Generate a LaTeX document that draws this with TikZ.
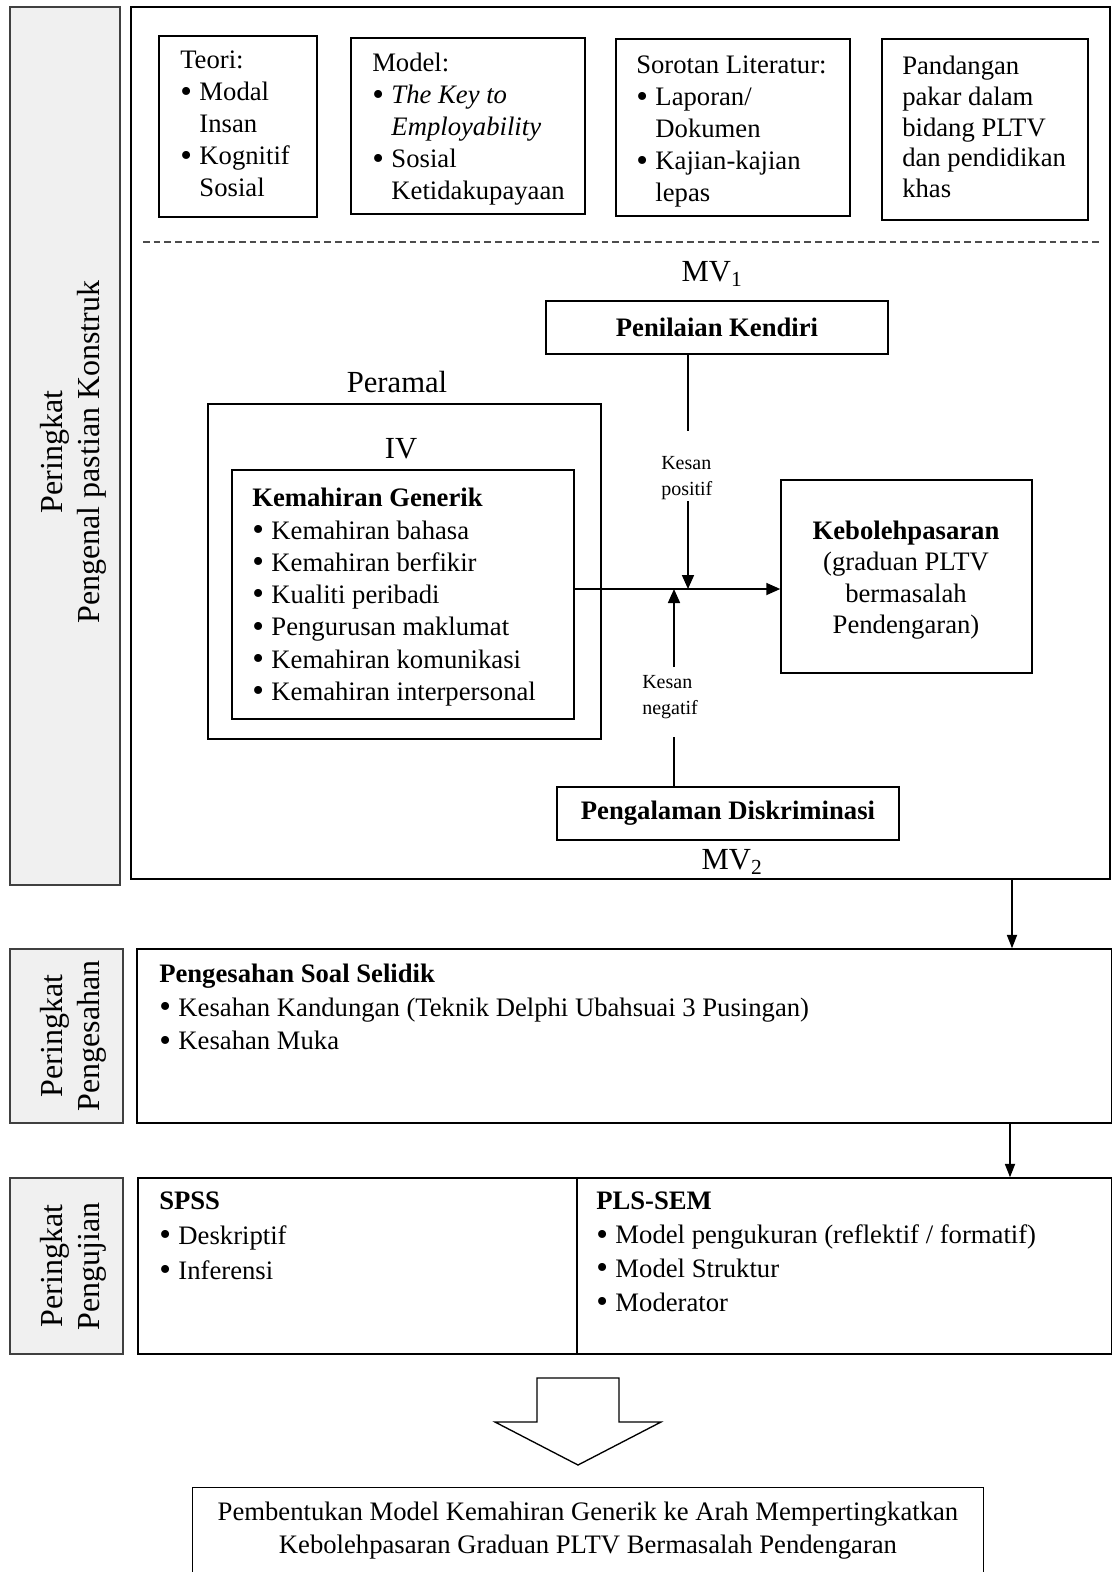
\documentclass[tikz,border=0pt]{standalone}
\usepackage{fontspec}
\setmainfont{Liberation Serif}
\usetikzlibrary{arrows.meta,fit}
\newcommand{\bdot}{\smash{\raisebox{-0.05em}{\scalebox{1.25}{\textbullet}}}}
\newcommand{\bu}{\makebox[0.72em][l]{\bdot}}
\newcommand{\ind}{\hspace*{0.72em}}
\tikzset{
  frame/.style={draw=black, line width=1.1pt, inner sep=0pt},
  panel/.style={draw=black!75, fill=black!6, line width=1.1pt, inner sep=0pt},
  txt/.style={inner sep=0pt, align=left, anchor=north west, font=\fontsize{20}{24}\selectfont},
  ctxt/.style={inner sep=0pt, align=center, font=\fontsize{20}{24}\selectfont},
  big/.style={inner sep=0pt, font=\fontsize{23}{27}\selectfont},
  small/.style={inner sep=0pt, align=left, anchor=west, font=\fontsize{15}{19.5}\selectfont},
  vlab/.style={inner sep=0pt, align=center, rotate=90, font=\fontsize{24}{27.75}\selectfont},
  conn/.style={line width=1.3pt},
  arr/.style={line width=1.3pt, -{Triangle[length=10.5pt,width=9pt]}},
  darr/.style={line width=1.3pt, -{Triangle[length=10pt,width=7.5pt]}}
}
\begin{document}
\begin{tikzpicture}[x=0.75pt,y=-0.75pt]
\useasboundingbox (0,0) rectangle (1112,1572);

% ---------- stage 1 ----------
\node[panel, fit={(10,7) (120,885)}] (p1) {};
\node[vlab] (p1t) at (73,452) {Peringkat\\Pengenal pastian Konstruk};
\node[frame, fit={(131,7) (1110,879)}] (main) {};

\node[frame, fit={(159,36) (317,217)}] (teori) {};
\node[txt] (teorit) at (180,51) {Teori:\\\bu Modal\\\ind Insan\\\bu Kognitif\\\ind Sosial};
\node[frame, fit={(351,38) (585,214)}] (model) {};
\node[txt] (modelt) at (372,53) {Model:\\\bu\textit{The Key to}\\\ind\textit{Employability}\\\bu Sosial\\\ind Ketidakupayaan};
\node[frame, fit={(616,39) (850,216)}] (sorotan) {};
\node[txt] (sorotant) at (636,56) {Sorotan Literatur:\\\bu Laporan/\\\ind Dokumen\\\bu Kajian-kajian\\\ind lepas};
\node[frame, fit={(882,39) (1088,220)}] (pandang) {};
\node[txt, font=\fontsize{20}{23}\selectfont] (pandangt) at (902,56) {Pandangan\\pakar dalam\\bidang PLTV\\dan pendidikan\\khas};

\coordinate (dl) at (143,242);
\coordinate (dr) at (1100,242);
\draw[dashed, line width=0.9pt, dash pattern=on 5pt off 3pt, black!70] (dl) -- (dr);

\node[big] (mv1) at (712,274) {MV\textsubscript{1}};
\node[frame, fit={(546,301) (888,354)}] (penilaian) {};
\node[ctxt] (penilaiant) at (penilaian.center) {\textbf{Penilaian Kendiri}};

\node[big] (peramal) at (397,382) {Peramal};
\node[frame, fit={(208,404) (601,739)}] (outer) {};
\node[big] (iv) at (401,449) {IV};
\node[frame, fit={(232,470) (574,719)}] (inner) {};
\node[txt, font=\fontsize{20}{24.2}\selectfont] (innert) at (252,488) {\textbf{Kemahiran Generik}\\\bu Kemahiran bahasa\\\bu Kemahiran berfikir\\\bu Kualiti peribadi\\\bu Pengurusan maklumat\\\bu Kemahiran komunikasi\\\bu Kemahiran interpersonal};

\node[frame, fit={(781,480) (1032,673)}] (keb) {};
\node[ctxt, font=\fontsize{20}{23.6}\selectfont] (kebt) at (906,580) {\textbf{Kebolehpasaran}\\(graduan PLTV\\bermasalah\\Pendengaran)};

\node[frame, fit={(557,787) (899,840)}] (pengalaman) {};
\node[ctxt] (pengalamant) at (pengalaman.center) {\textbf{Pengalaman Diskriminasi}};
\node[big] (mv2) at (732,862) {MV\textsubscript{2}};

\coordinate (my) at (0,589);
\coordinate (kp) at (688,0);
\coordinate (kn) at (674,0);
\draw[arr] (inner.east |- my) -- (keb.west |- my);

\node[small] (kpos) at (661,478) {Kesan\\positif};
\coordinate (kp1) at (688,431);
\coordinate (kp2) at (688,501);
\draw[conn] (penilaian.south -| kp) -- (kp1);
\draw[arr] (kp2) -- (kp |- my);

\node[small] (kneg) at (642,697) {Kesan\\negatif};
\coordinate (kn1) at (674,737);
\coordinate (kn2) at (674,667);
\draw[conn] (pengalaman.north -| kn) -- (kn1);
\draw[arr] (kn2) -- (kn |- my);

% ---------- stage 2 ----------
\node[panel, fit={(10,949) (123,1123)}] (p2) {};
\node[vlab] (p2t) at (73,1036) {Peringkat\\Pengesahan};
\node[frame, fit={(137,949) (1112,1123)}] (box2) {};
\node[txt, font=\fontsize{20}{25.2}\selectfont] (box2t) at (159,964) {\textbf{Pengesahan Soal Selidik}\\\bu Kesahan Kandungan (Teknik Delphi Ubahsuai 3 Pusingan)\\\bu Kesahan Muka};
\coordinate (a1) at (1012,0);
\draw[darr] (main.south -| a1) -- (box2.north -| a1);

% ---------- stage 3 ----------
\node[panel, fit={(10,1178) (123,1354)}] (p3) {};
\node[vlab] (p3t) at (73,1266) {Peringkat\\Pengujian};
\node[frame, fit={(138,1178) (577,1354)}] (spss) {};
\node[frame, fit={(577,1178) (1112,1354)}] (pls) {};
\node[txt, font=\fontsize{20}{26}\selectfont] (spsst) at (159,1192) {\textbf{SPSS}\\\bu Deskriptif\\\bu Inferensi};
\node[txt, font=\fontsize{20}{25.3}\selectfont] (plst) at (596,1192) {\textbf{PLS-SEM}\\\bu Model pengukuran (reflektif / formatif)\\\bu Model Struktur\\\bu Moderator};
\coordinate (a2) at (1010,0);
\draw[darr] (box2.south -| a2) -- (pls.north -| a2);

% ---------- block arrow ----------
\draw[line width=1pt] (537,1378) -- (619,1378) -- (619,1422) -- (661,1422) -- (578,1465) -- (495,1422) -- (537,1422) -- cycle;

% ---------- final ----------
\node[inner sep=0pt, fit={(193,1488) (983,1590)}] (fin) {};
\draw[line width=1.1pt] (fin.south west) -- (fin.north west) -- (fin.north east) -- (fin.south east);
\node[ctxt, font=\fontsize{20}{24.75}\selectfont] (fint) at (588,1531) {Pembentukan Model Kemahiran Generik ke Arah Mempertingkatkan\\Kebolehpasaran Graduan PLTV Bermasalah Pendengaran};
\end{tikzpicture}
\end{document}
